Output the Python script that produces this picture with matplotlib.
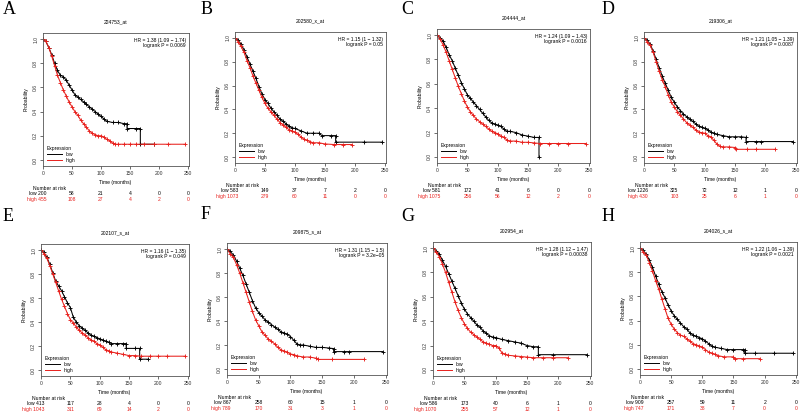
import matplotlib
matplotlib.use("Agg")
import matplotlib.pyplot as plt
from matplotlib.lines import Line2D

plt.rcParams['font.family'] = ['Liberation Sans', 'DejaVu Sans']

# months 0..100 every 5
grid = [0, 5, 10, 15, 20, 25, 30, 35, 40, 45, 50, 55, 60, 65, 70, 75, 80, 85, 90, 95, 100]

A_low = [1.0, 0.98, 0.93, 0.87, 0.80, 0.74, 0.70, 0.69, 0.66, 0.62, 0.58, 0.54, 0.52, 0.50, 0.48, 0.46, 0.44, 0.42, 0.40, 0.38, 0.36]
A_low_tail_t = [105, 110, 120, 130, 140, 145, 145, 160, 168, 168, 192]
A_low_tail_s = [0.34, 0.32, 0.31, 0.31, 0.30, 0.30, 0.26, 0.26, 0.26, 0.13, 0.13]
A_high = [1.0, 0.98, 0.93, 0.86, 0.78, 0.70, 0.64, 0.58, 0.53, 0.48, 0.44, 0.40, 0.37, 0.33, 0.30, 0.27, 0.24, 0.22, 0.21, 0.20, 0.20]
A_high_tail_t = [105, 110, 115, 120, 125, 130, 140, 150, 160, 175, 192, 215, 245]
A_high_tail_s = [0.19, 0.17, 0.16, 0.14, 0.13, 0.13, 0.13, 0.13, 0.13, 0.13, 0.13, 0.13, 0.13]

B_low = [1.0, 0.98, 0.95, 0.90, 0.84, 0.78, 0.72, 0.66, 0.59, 0.53, 0.48, 0.45, 0.41, 0.38, 0.35, 0.32, 0.30, 0.28, 0.26, 0.245, 0.24]
B_low_tail_t = [110, 120, 130, 140, 145, 160, 168, 168, 215, 245]
B_low_tail_s = [0.22, 0.20, 0.20, 0.20, 0.18, 0.18, 0.18, 0.125, 0.125, 0.125]
B_high = [1.0, 0.97, 0.93, 0.88, 0.81, 0.75, 0.68, 0.62, 0.56, 0.50, 0.45, 0.41, 0.38, 0.35, 0.32, 0.29, 0.27, 0.25, 0.23, 0.22, 0.21]
B_high_tail_t = [105, 110, 115, 120, 125, 130, 140, 150, 165, 180, 195]
B_high_tail_s = [0.19, 0.17, 0.15, 0.14, 0.13, 0.12, 0.12, 0.11, 0.105, 0.105, 0.105]

C_low = [1.0, 0.98, 0.95, 0.90, 0.84, 0.79, 0.73, 0.67, 0.61, 0.56, 0.51, 0.48, 0.45, 0.42, 0.39, 0.36, 0.33, 0.30, 0.28, 0.27, 0.26]
C_low_tail_t = [105, 110, 115, 120, 130, 140, 150, 160, 168, 168]
C_low_tail_s = [0.25, 0.23, 0.21, 0.21, 0.20, 0.18, 0.17, 0.16, 0.16, 0.0]
C_high = [1.0, 0.97, 0.92, 0.86, 0.79, 0.72, 0.65, 0.58, 0.52, 0.46, 0.41, 0.37, 0.34, 0.31, 0.29, 0.27, 0.25, 0.23, 0.21, 0.20, 0.19]
C_high_tail_t = [105, 110, 115, 120, 130, 140, 150, 160, 170, 185, 200, 215, 245]
C_high_tail_s = [0.17, 0.16, 0.14, 0.13, 0.13, 0.12, 0.12, 0.115, 0.11, 0.11, 0.11, 0.11, 0.11]

D_low = [1.0, 0.98, 0.95, 0.89, 0.82, 0.75, 0.68, 0.62, 0.56, 0.50, 0.46, 0.42, 0.39, 0.36, 0.34, 0.32, 0.30, 0.28, 0.26, 0.25, 0.24]
D_low_tail_t = [105, 110, 115, 120, 130, 140, 150, 160, 168, 168, 185, 192, 245]
D_low_tail_s = [0.23, 0.21, 0.20, 0.19, 0.18, 0.17, 0.17, 0.17, 0.165, 0.13, 0.13, 0.13, 0.13]
D_high = [1.0, 0.97, 0.94, 0.88, 0.80, 0.72, 0.65, 0.59, 0.52, 0.46, 0.42, 0.38, 0.35, 0.32, 0.29, 0.27, 0.25, 0.23, 0.21, 0.205, 0.20]
D_high_tail_t = [105, 110, 115, 120, 125, 130, 140, 150, 152, 170, 185, 215]
D_high_tail_s = [0.18, 0.17, 0.14, 0.11, 0.09, 0.085, 0.085, 0.08, 0.065, 0.065, 0.065, 0.065]

E_low = [1.0, 0.98, 0.94, 0.88, 0.81, 0.74, 0.70, 0.66, 0.61, 0.56, 0.52, 0.44, 0.40, 0.37, 0.35, 0.33, 0.31, 0.29, 0.28, 0.27, 0.26]
E_low_tail_t = [105, 110, 115, 120, 130, 140, 145, 145, 160, 168, 168, 183]
E_low_tail_s = [0.25, 0.24, 0.23, 0.22, 0.22, 0.22, 0.22, 0.18, 0.18, 0.18, 0.09, 0.09]
E_high = [1.0, 0.97, 0.93, 0.87, 0.80, 0.73, 0.66, 0.59, 0.53, 0.47, 0.42, 0.39, 0.36, 0.33, 0.31, 0.29, 0.27, 0.25, 0.24, 0.22, 0.21]
E_high_tail_t = [105, 110, 115, 120, 130, 140, 150, 160, 170, 185, 200, 215, 245]
E_high_tail_s = [0.19, 0.17, 0.16, 0.15, 0.14, 0.13, 0.12, 0.12, 0.115, 0.115, 0.115, 0.115, 0.115]

F_low = [1.0, 0.98, 0.95, 0.90, 0.84, 0.78, 0.71, 0.64, 0.57, 0.51, 0.47, 0.44, 0.41, 0.39, 0.37, 0.35, 0.33, 0.31, 0.30, 0.29, 0.27]
F_low_tail_t = [105, 110, 115, 120, 130, 140, 150, 160, 168, 168, 185, 192, 245]
F_low_tail_s = [0.24, 0.21, 0.20, 0.20, 0.19, 0.18, 0.18, 0.175, 0.17, 0.145, 0.145, 0.145, 0.145]
F_high = [1.0, 0.96, 0.93, 0.87, 0.80, 0.72, 0.64, 0.56, 0.48, 0.41, 0.36, 0.31, 0.28, 0.25, 0.23, 0.21, 0.18, 0.16, 0.15, 0.14, 0.125]
F_high_tail_t = [105, 110, 120, 130, 140, 143, 165, 215]
F_high_tail_s = [0.12, 0.11, 0.10, 0.10, 0.09, 0.08, 0.08, 0.08]

G_low = [1.0, 0.98, 0.95, 0.90, 0.85, 0.79, 0.73, 0.67, 0.61, 0.55, 0.50, 0.46, 0.43, 0.40, 0.37, 0.35, 0.32, 0.30, 0.28, 0.27, 0.265]
G_low_tail_t = [110, 120, 130, 140, 150, 160, 168, 168, 192, 245]
G_low_tail_s = [0.25, 0.24, 0.23, 0.22, 0.20, 0.19, 0.19, 0.125, 0.125, 0.125]
G_high = [1.0, 0.97, 0.93, 0.87, 0.80, 0.72, 0.64, 0.56, 0.49, 0.43, 0.38, 0.34, 0.31, 0.29, 0.27, 0.25, 0.23, 0.22, 0.21, 0.20, 0.20]
G_high_tail_t = [105, 110, 115, 120, 130, 140, 150, 160, 175, 192, 215]
G_high_tail_s = [0.18, 0.14, 0.13, 0.12, 0.115, 0.11, 0.105, 0.10, 0.10, 0.10, 0.10]

H_low = [1.0, 0.98, 0.95, 0.90, 0.84, 0.77, 0.70, 0.64, 0.59, 0.53, 0.48, 0.44, 0.41, 0.38, 0.35, 0.33, 0.30, 0.28, 0.27, 0.26, 0.25]
H_low_tail_t = [105, 110, 115, 120, 130, 140, 150, 165, 168, 168, 185, 215, 245]
H_low_tail_s = [0.23, 0.21, 0.19, 0.18, 0.17, 0.16, 0.16, 0.16, 0.16, 0.13, 0.13, 0.13, 0.13]
H_high = [1.0, 0.97, 0.94, 0.88, 0.81, 0.73, 0.66, 0.58, 0.50, 0.42, 0.37, 0.33, 0.30, 0.28, 0.27, 0.25, 0.23, 0.21, 0.20, 0.19, 0.18]
H_high_tail_t = [105, 110, 115, 120, 125, 135, 150, 152, 165, 192]
H_high_tail_s = [0.16, 0.14, 0.13, 0.12, 0.11, 0.10, 0.10, 0.085, 0.085, 0.085]

letters = ["A", "B", "C", "D", "E", "F", "G", "H"]
probes = ["224753_at", "202580_x_at", "204444_at", "219306_at",
          "202107_s_at", "209875_s_at", "202954_at", "204026_s_at"]
hr_text = ["HR = 1.38 (1.09 − 1.74)", "HR = 1.15 (1 − 1.32)", "HR = 1.24 (1.09 − 1.43)",
           "HR = 1.21 (1.05 − 1.39)", "HR = 1.16 (1 − 1.35)", "HR = 1.31 (1.15 − 1.5)",
           "HR = 1.28 (1.12 − 1.47)", "HR = 1.22 (1.06 − 1.39)"]
p_text = ["logrank P = 0.0069", "logrank P = 0.05", "logrank P = 0.0016", "logrank P = 0.0087",
          "logrank P = 0.049", "logrank P = 3.2e−05", "logrank P = 0.00038", "logrank P = 0.0021"]

risk_times = [0, 50, 100, 150, 200, 250]
risk_low = [[200, 58, 21, 4, 0, 0], [583, 149, 37, 7, 2, 0], [581, 172, 41, 6, 0, 0],
            [1226, 325, 72, 12, 1, 0], [413, 117, 28, 4, 0, 0], [867, 258, 60, 15, 1, 0],
            [586, 173, 40, 6, 1, 0], [909, 257, 59, 11, 2, 0]]
risk_high = [[455, 108, 27, 4, 2, 0], [1073, 279, 60, 11, 0, 0], [1075, 256, 56, 12, 2, 0],
             [430, 103, 25, 6, 1, 0], [1043, 311, 69, 14, 2, 0], [789, 170, 31, 3, 1, 0],
             [1070, 255, 57, 12, 1, 0], [747, 171, 38, 7, 0, 0]]

curves = [
    (A_low, A_low_tail_t, A_low_tail_s, A_high, A_high_tail_t, A_high_tail_s),
    (B_low, B_low_tail_t, B_low_tail_s, B_high, B_high_tail_t, B_high_tail_s),
    (C_low, C_low_tail_t, C_low_tail_s, C_high, C_high_tail_t, C_high_tail_s),
    (D_low, D_low_tail_t, D_low_tail_s, D_high, D_high_tail_t, D_high_tail_s),
    (E_low, E_low_tail_t, E_low_tail_s, E_high, E_high_tail_t, E_high_tail_s),
    (F_low, F_low_tail_t, F_low_tail_s, F_high, F_high_tail_t, F_high_tail_s),
    (G_low, G_low_tail_t, G_low_tail_s, G_high, G_high_tail_t, G_high_tail_s),
    (H_low, H_low_tail_t, H_low_tail_s, H_high, H_high_tail_t, H_high_tail_s),
]

# axes boxes in pixels: left, top, right, bottom
boxes = [(43, 33, 189, 166), (235, 32, 386, 163), (437, 29, 590, 163), (644, 32, 797, 163),
         (41, 244, 189, 376), (227, 243, 387, 375), (433, 242, 591, 376), (640, 242, 797, 375)]
letter_pos = [(3, 10), (201, 10), (401, 10), (602, 10), (3, 216), (201, 214), (401, 216), (602, 216)]

W, H = 800, 415
fig = plt.figure(figsize=(8, 4.15), dpi=100)
RED = "#e8201c"
fs = 3.6

for i in range(8):
    l, t, r, b = boxes[i]
    ax = fig.add_axes([l / W, 1 - b / H, (r - l) / W, (b - t) / H])
    low, lt, ls, high, ht, hs = curves[i]
    ax.plot(grid + lt, low + ls, color="black", lw=0.75, marker="+", ms=3.4, mew=0.65)
    ax.plot(grid + ht, high + hs, color=RED, lw=0.75, marker="+", ms=3.4, mew=0.65)
    ax.set_xlim(0, 252)
    ax.set_ylim(-0.05, 1.05)
    ax.set_xticks([0, 50, 100, 150, 200, 250])
    ax.set_yticks([0.0, 0.2, 0.4, 0.6, 0.8, 1.0])
    ax.set_yticklabels(["0.0", "0.2", "0.4", "0.6", "0.8", "1.0"], rotation=90, va="center")
    ax.tick_params(labelsize=fs, length=2, width=0.5, pad=1.5, colors="#333333")
    for s in ax.spines.values():
        s.set_linewidth(0.6)
        s.set_color("#555555")
    ax.set_ylabel("Probability", fontsize=fs, labelpad=3)
    ax.set_title(probes[i], fontsize=fs, pad=7)
    ax.text(0.98, 0.965, hr_text[i] + "\n" + p_text[i], transform=ax.transAxes,
            ha="right", va="top", fontsize=fs, linespacing=1.2)
    handles = [Line2D([], [], color="black", lw=0.7), Line2D([], [], color=RED, lw=0.7)]
    leg = ax.legend(handles, ["low", "high"], title="Expression", loc="lower left",
                    fontsize=fs, title_fontsize=fs, frameon=False, handlelength=3,
                    borderaxespad=0.3, labelspacing=0.2, alignment="left")

    xt = ax.get_xaxis_transform()
    ax.annotate("Time (months)", xy=(125, 0), xycoords=xt, xytext=(0, -12),
                textcoords="offset points", ha="center", va="center", fontsize=fs)
    ax.annotate("Number at risk", xy=(12, 0), xycoords=xt, xytext=(0, -16.5),
                textcoords="offset points", ha="center", va="center", fontsize=fs)
    for j, tm in enumerate(risk_times):
        if j == 0:
            lo_s, hi_s, ha = "low " + str(risk_low[i][j]), "high " + str(risk_high[i][j]), "right"
            tm = tm + 6
        else:
            lo_s, hi_s, ha = str(risk_low[i][j]), str(risk_high[i][j]), "center"
        ax.annotate(lo_s, xy=(tm, 0), xycoords=xt, xytext=(0, -19.5),
                    textcoords="offset points", ha=ha, va="center", fontsize=fs)
        ax.annotate(hi_s, xy=(tm, 0), xycoords=xt, xytext=(0, -24),
                    textcoords="offset points", ha=ha, va="center", fontsize=fs, color=RED)

    lx, ly = letter_pos[i]
    fig.text(lx / W, 1 - ly / H, letters[i], fontsize=13, family="Liberation Serif",
             ha="left", va="center")

fig.savefig("out.png", dpi=100, facecolor="white")
